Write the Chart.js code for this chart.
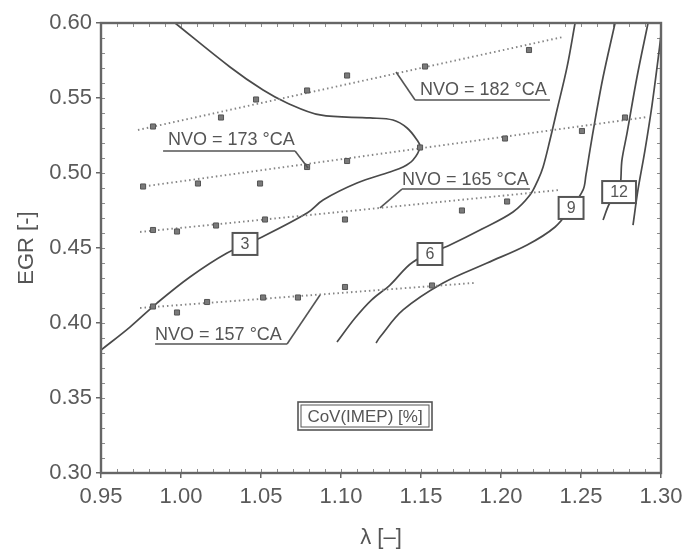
<!DOCTYPE html>
<html>
<head>
<meta charset="utf-8">
<script src="https://cdn.jsdelivr.net/npm/chart.js@4/dist/chart.umd.min.js"></script>
<style>
  html, body { margin: 0; padding: 0; background: #fff; }
  #c { display: block; }
</style>
</head>
<body>
<canvas id="c" width="683" height="551"></canvas>
<script>
// EGR vs. λ operating map: CoV(IMEP) iso-lines and measured points at four NVO settings

const lambdaTicks = [0.95, 1.00, 1.05, 1.10, 1.15, 1.20, 1.25, 1.30];
const egrTicks = [0.30, 0.35, 0.40, 0.45, 0.50, 0.55, 0.60];

// measured points per NVO setting
const nvo157Lambda = [0.9825, 0.9975, 1.0163, 1.0513, 1.0731, 1.1025, 1.1569];
const nvo157Egr    = [0.411, 0.407, 0.414, 0.417, 0.417, 0.424, 0.425];
const nvo165Lambda = [0.9825, 0.9975, 1.0219, 1.0525, 1.1025, 1.1756, 1.2038];
const nvo165Egr    = [0.462, 0.461, 0.465, 0.469, 0.469, 0.475, 0.481];
const nvo173Lambda = [0.9763, 1.0106, 1.0494, 1.0788, 1.1038, 1.1494, 1.2025, 1.2506, 1.2775];
const nvo173Egr    = [0.491, 0.493, 0.493, 0.504, 0.508, 0.517, 0.523, 0.528, 0.537];
const nvo182Lambda = [0.9825, 1.0250, 1.0469, 1.0788, 1.1038, 1.1525, 1.2175];
const nvo182Egr    = [0.531, 0.537, 0.549, 0.555, 0.565, 0.571, 0.582];

// trend lines through each NVO set (end points)
const trend157Lambda = [0.9744, 1.1831];
const trend157Egr    = [0.410, 0.4267];
const trend165Lambda = [0.9744, 1.2369];
const trend165Egr    = [0.4607, 0.4887];
const trend173Lambda = [0.9744, 1.2913];
const trend173Egr    = [0.4907, 0.5373];
const trend182Lambda = [0.9731, 1.2388];
const trend182Egr    = [0.5287, 0.5907];

// CoV(IMEP) iso-lines [%]
const cov3Lambda = [0.9963, 1.0306, 1.0513, 1.0663, 1.0869, 1.1181, 1.1325, 1.1413, 1.1475, 1.1494,
                    1.1450, 1.1388, 1.1306, 1.1100, 1.0888, 1.0788, 1.0494, 1.0288, 1.0056, 0.9850, 0.9681, 0.9500];
const cov3Egr    = [0.600, 0.5707, 0.5553, 0.5467, 0.5387, 0.5367, 0.5353, 0.5300, 0.5220, 0.5173,
                    0.5087, 0.5040, 0.5007, 0.4933, 0.4820, 0.4733, 0.4567, 0.4467, 0.4307, 0.4133, 0.3973, 0.3820];
const cov6Lambda = [1.0975, 1.1088, 1.1190, 1.1306, 1.1450, 1.1681, 1.1869, 1.2075, 1.2181, 1.2231, 1.2263, 1.2306, 1.2350, 1.2413, 1.2463];
const cov6Egr    = [0.3873, 0.4033, 0.4153, 0.4253, 0.4407, 0.4520, 0.4620, 0.4740, 0.4853, 0.4953, 0.5040, 0.5220, 0.5420, 0.5707, 0.6000];
const cov9Lambda = [1.1219, 1.1244, 1.1388, 1.1638, 1.1913, 1.2163, 1.2338, 1.2438, 1.2513, 1.2531, 1.2556, 1.2588, 1.2638, 1.2713];
const cov9Egr    = [0.3867, 0.3907, 0.4087, 0.4267, 0.4400, 0.4520, 0.4640, 0.4767, 0.4887, 0.4987, 0.5153, 0.5353, 0.5640, 0.6000];
const cov12Lambda = [1.2638, 1.2680, 1.2738, 1.2756, 1.2788, 1.2850, 1.2919];
const cov12Egr    = [0.4687, 0.4800, 0.4873, 0.5087, 0.5267, 0.5640, 0.6000];
const cov15Lambda = [1.2825, 1.2856, 1.2900, 1.2944, 1.2981, 1.3000];
const cov15Egr    = [0.4653, 0.4887, 0.5153, 0.5453, 0.5753, 0.5920];

const pts = (xs, ys) => xs.map((x, i) => ({ x: x, y: ys[i] }));

const lineGrey = '#4a4a4a';
const dotGrey = '#858585';

function isoLine(xs, ys) {
  return { type: 'line', data: pts(xs, ys), borderColor: lineGrey, borderWidth: 1.7,
           pointRadius: 0, tension: 0.35, fill: false, showLine: true, order: 3 };
}
function trendLine(xs, ys) {
  return { type: 'line', data: pts(xs, ys), borderColor: dotGrey, borderWidth: 1.9,
           borderDash: [1.5, 3], pointRadius: 0, fill: false, showLine: true, order: 2 };
}
function measured(xs, ys, style) {
  return { type: 'scatter', data: pts(xs, ys), pointStyle: style, pointRadius: 3.6,
           backgroundColor: '#7a7a7a', borderColor: '#555', borderWidth: 1, order: 1 };
}

const datasets = [
  isoLine(cov3Lambda, cov3Egr),
  isoLine(cov6Lambda, cov6Egr),
  isoLine(cov9Lambda, cov9Egr),
  isoLine(cov12Lambda, cov12Egr),
  isoLine(cov15Lambda, cov15Egr),
  trendLine(trend157Lambda, trend157Egr),
  trendLine(trend165Lambda, trend165Egr),
  trendLine(trend173Lambda, trend173Egr),
  trendLine(trend182Lambda, trend182Egr),
  measured(nvo157Lambda, nvo157Egr, 'rect'),
  measured(nvo165Lambda, nvo165Egr, 'rect'),
  measured(nvo173Lambda, nvo173Egr, 'rect'),
  measured(nvo182Lambda, nvo182Egr, 'rect')
];

// NVO labels with underline and leader to their trend line
const nvoNotes = [
  { text: 'NVO = 182 °CA', x: 1.1494, y: 0.5553, ul: [1.1463, 1.2306, 0.5487], lead: [1.1463, 0.5487, 1.1344, 0.5673] },
  { text: 'NVO = 173 °CA', x: 0.9919, y: 0.5220, ul: [0.9888, 1.0713, 0.5147], lead: [1.0713, 0.5147, 1.0794, 0.5033] },
  { text: 'NVO = 165 °CA', x: 1.1381, y: 0.4953, ul: [1.1381, 1.2181, 0.4893], lead: [1.1381, 0.4893, 1.1244, 0.4767] },
  { text: 'NVO = 157 °CA', x: 0.9838, y: 0.3920, ul: [0.9838, 1.0663, 0.3860], lead: [1.0663, 0.3860, 1.0869, 0.4187] }
];
// iso-line value tags
const covTags = [
  { text: '3',  x: 1.0400, y: 0.4527 },
  { text: '6',  x: 1.1556, y: 0.4460 },
  { text: '9',  x: 1.2438, y: 0.4767 },
  { text: '12', x: 1.2738, y: 0.4873 }
];

const notesPlugin = {
  id: 'notes',
  beforeDatasetsDraw(chart) {
    const { ctx, chartArea: a, scales: { x, y } } = chart;
    ctx.save();
    // inward minor ticks every 0.01
    ctx.strokeStyle = '#8c8c8c';
    ctx.lineWidth = 1;
    for (let i = 0; i <= 35; i++) {
      const px = Math.round(x.getPixelForValue(0.95 + i * 0.01)) + 0.5;
      ctx.beginPath(); ctx.moveTo(px, a.bottom); ctx.lineTo(px, a.bottom - 4); ctx.stroke();
      ctx.beginPath(); ctx.moveTo(px, a.top); ctx.lineTo(px, a.top + 4); ctx.stroke();
    }
    for (let i = 0; i <= 30; i++) {
      const py = Math.round(y.getPixelForValue(0.30 + i * 0.01)) + 0.5;
      ctx.beginPath(); ctx.moveTo(a.left, py); ctx.lineTo(a.left + 4, py); ctx.stroke();
      ctx.beginPath(); ctx.moveTo(a.right, py); ctx.lineTo(a.right - 4, py); ctx.stroke();
    }
    ctx.restore();
  },
  afterDatasetsDraw(chart) {
    const { ctx, chartArea: a, scales: { x, y } } = chart;
    ctx.save();
    ctx.fillStyle = '#555';
    ctx.strokeStyle = '#555';
    ctx.font = '18px "Liberation Sans", Arial, sans-serif';
    ctx.textBaseline = 'middle';
    ctx.textAlign = 'left';
    nvoNotes.forEach(n => {
      ctx.fillText(n.text, x.getPixelForValue(n.x), y.getPixelForValue(n.y));
      ctx.lineWidth = 1.6;
      ctx.beginPath();
      ctx.moveTo(x.getPixelForValue(n.ul[0]), y.getPixelForValue(n.ul[2]));
      ctx.lineTo(x.getPixelForValue(n.ul[1]), y.getPixelForValue(n.ul[2]));
      ctx.stroke();
      ctx.beginPath();
      ctx.moveTo(x.getPixelForValue(n.lead[0]), y.getPixelForValue(n.lead[1]));
      ctx.lineTo(x.getPixelForValue(n.lead[2]), y.getPixelForValue(n.lead[3]));
      ctx.stroke();
    });

    // value tags on the iso-lines
    ctx.font = '16px "Liberation Sans", Arial, sans-serif';
    ctx.textAlign = 'center';
    covTags.forEach(t => {
      const cx = x.getPixelForValue(t.x), cy = y.getPixelForValue(t.y);
      const w = ctx.measureText(t.text).width + 16, h = 22;
      ctx.fillStyle = '#fff';
      ctx.fillRect(cx - w / 2, cy - h / 2, w, h);
      ctx.lineWidth = 2;
      ctx.strokeRect(cx - w / 2, cy - h / 2, w, h);
      ctx.fillStyle = '#555';
      ctx.fillText(t.text, cx, cy + 1);
    });

    // quantity tag
    const qx = x.getPixelForValue(1.115), qy = y.getPixelForValue(0.338);
    ctx.font = '17px "Liberation Sans", Arial, sans-serif';
    const qw = 134, qh = 28;
    ctx.fillStyle = '#fff';
    ctx.fillRect(qx - qw / 2, qy - qh / 2, qw, qh);
    ctx.lineWidth = 1.6;
    ctx.strokeRect(qx - qw / 2, qy - qh / 2, qw, qh);
    ctx.lineWidth = 1;
    ctx.strokeRect(qx - qw / 2 + 3, qy - qh / 2 + 3, qw - 6, qh - 6);
    ctx.fillStyle = '#555';
    ctx.fillText('CoV(IMEP) [%]', qx, qy + 1);

    // plot frame
    ctx.lineWidth = 2.4;
    ctx.strokeStyle = '#666';
    ctx.strokeRect(a.left, a.top, a.right - a.left, a.bottom - a.top);
    ctx.restore();
  }
};

const tickFont = { family: '"Liberation Sans", Arial, sans-serif', size: 22 };

new Chart(document.getElementById('c'), {
  type: 'scatter',
  data: { datasets: datasets },
  plugins: [notesPlugin],
  options: {
    responsive: false,
    animation: false,
    devicePixelRatio: 1,
    layout: { padding: { top: 23, right: 22, left: 0, bottom: 0 } },
    plugins: { legend: { display: false }, tooltip: { enabled: false } },
    scales: {
      x: {
        type: 'linear', min: 0.95, max: 1.30,
        afterBuildTicks: s => { s.ticks = lambdaTicks.map(v => ({ value: v })); },
        afterFit: s => { s.height = 78; s.paddingLeft = 0; s.paddingRight = 0; },
        grid: { drawOnChartArea: false, drawTicks: true, tickLength: 5, color: '#666', lineWidth: 1.5 },
        border: { display: false },
        ticks: { font: tickFont, color: '#5a5a5a', padding: 6, maxRotation: 0,
                 callback: v => v.toFixed(2) },
        title: { display: true, text: 'λ [–]', color: '#555',
                 font: { family: '"Liberation Sans", Arial, sans-serif', size: 22 },
                 padding: { top: 0, bottom: 0 } }
      },
      y: {
        type: 'linear', min: 0.30, max: 0.60,
        afterBuildTicks: s => { s.ticks = egrTicks.map(v => ({ value: v })); },
        afterFit: s => { s.width = 101; s.paddingTop = 0; s.paddingBottom = 0; },
        grid: { drawOnChartArea: false, drawTicks: true, tickLength: 5, color: '#666', lineWidth: 1.5 },
        border: { display: false },
        ticks: { font: tickFont, color: '#5a5a5a', padding: 4,
                 callback: v => v.toFixed(2) },
        title: { display: true, text: 'EGR [-]', color: '#555',
                 font: { family: '"Liberation Sans", Arial, sans-serif', size: 22 },
                 padding: { top: 14, bottom: 0 } }
      }
    }
  }
});
</script>
</body>
</html>
